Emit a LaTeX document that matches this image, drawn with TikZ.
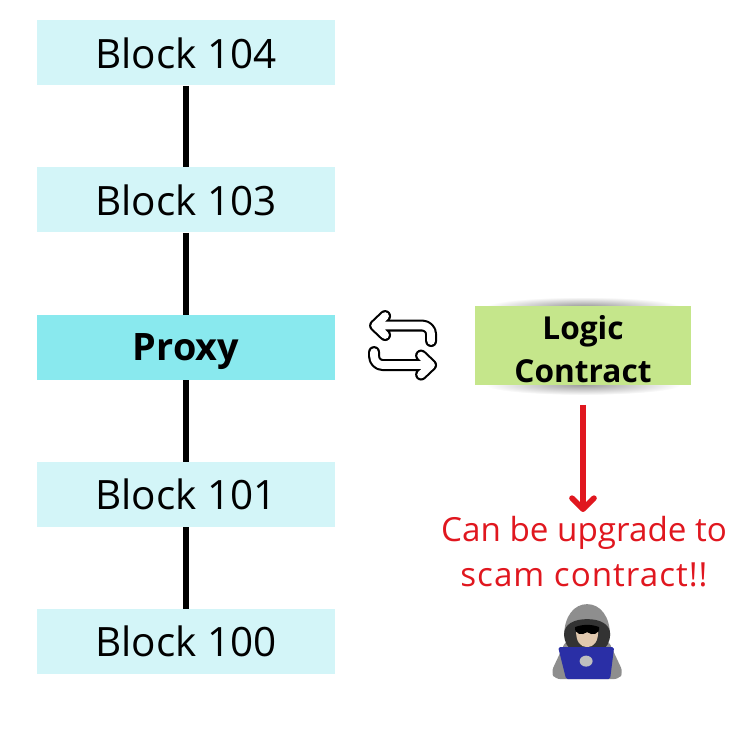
\documentclass[tikz,border=0pt]{standalone}
\usepackage{xcolor}
\usepackage{fontspec}
\setmainfont{Open Sans}
\usetikzlibrary{arrows.meta, positioning, calc}

\definecolor{blockcol}{HTML}{D3F5F8}
\definecolor{proxycol}{HTML}{89E9EE}
\definecolor{logiccol}{HTML}{C5E68B}
\definecolor{warncol}{HTML}{E0171F}
\definecolor{hoodcol}{HTML}{8E8E8E}
\definecolor{laptopcol}{HTML}{2A2FA6}
\definecolor{skincol}{HTML}{E0C8AE}

\begin{document}
\begin{tikzpicture}[
    block/.style={fill=blockcol, minimum width=5.96cm, minimum height=1.3cm,
                  inner sep=0pt, align=center, font=\fontsize{23}{27}\selectfont},
    link/.style={line width=3.4pt, black},
    swapline/.style={line width=1.2pt, double=white, double distance=4.4pt,
                     line cap=round, line join=round, rounded corners=5pt},
    warnarr/.style={line width=3.2pt, warncol, -{Straight Barb[round, length=2.2mm, width=4.4mm, line width=3.2pt]}}
]
\useasboundingbox (0,0) rectangle (15,15);

% chain of blocks
\node[block] (b104) at (3.72,13.94) {Block 104};
\node[block] (b103) at (3.72,11.00) {Block 103};
\node[block, fill=proxycol, text depth=0pt, font=\fontsize{21.5}{27}\selectfont] (proxy) at (3.72,8.05) {\textbf{Proxy}};
\node[block] (b101) at (3.72,5.11) {Block 101};
\node[block] (b100) at (3.72,2.17) {Block 100};

\draw[link] (b104) -- (b103);
\draw[link] (b103) -- (proxy);
\draw[link] (proxy) -- (b101);
\draw[link] (b101) -- (b100);

% soft shadow behind the logic box
\shade[inner color=black!42, outer color=white] (11.66,8.86) ellipse (1.95 and 0.2);
\shade[inner color=black!38, outer color=white] (11.66,7.30) ellipse (1.95 and 0.2);

\node[fill=logiccol, minimum width=4.32cm, minimum height=1.58cm, inner sep=0pt,
      align=center, font=\fontsize{18}{24.4}\selectfont\bfseries] (logic) at (11.66,8.09)
    {\rule{0pt}{17.5pt}Logic\\Contract};

\node[text=warncol, align=center, font=\fontsize{18.9}{26}\selectfont, inner sep=0pt,
      anchor=north] (warn) at (11.68,4.69) {Can be upgrade to\\{\addfontfeature{LetterSpace=3}scam contract!!}};

\coordinate (warnstart) at (11.66,6.9);
\coordinate (warnend) at (11.66,4.76);
\draw[warnarr] (warnstart) -- (warnend);

% swap icon, hacker: pixel coordinates
\begin{scope}[x=0.02cm, y=-0.02cm, yshift=15cm]
  \draw[swapline] (431,341) -- (431,325.5) -- (375,325.5) [sharp corners] (385,316) -- (375,325.5) -- (385,335);
  \draw[swapline] (374,352) -- (374,365) -- (431,365) [sharp corners] (421,355.5) -- (431,365) -- (421,374.5);

  % hood and shoulders
  \fill[hoodcol, rounded corners=3pt] (566,640) -- (551,672) -- (555,679) -- (619,679) -- (623,672) -- (608,640) -- cycle;
  \fill[hoodcol] (564,636) .. controls (564,616) and (574,604) .. (587,604)
      .. controls (600,604) and (610,616) .. (610,636) -- cycle;
  % face
  \fill[black!80] (564,634) .. controls (564,624) and (574,619) .. (587,619)
      .. controls (600,619) and (610,624) .. (610,634)
      .. controls (610,642) and (606,648) .. (602,650) -- (572,650)
      .. controls (568,648) and (564,642) .. (564,634) -- cycle;
  \fill[skincol] (576,632) -- (598,632) .. controls (598,641) and (594,647) .. (587,647)
      .. controls (580,647) and (576,641) .. (576,632) -- cycle;
  \fill[black] (575,627) .. controls (582,624) and (592,624) .. (599,627)
      .. controls (600,634) and (592,636) .. (587,632)
      .. controls (582,636) and (574,634) .. (575,627) -- cycle;
  % laptop
  \fill[laptopcol, rounded corners=1pt] (558,647) -- (614,647) -- (610,679) -- (566,679) -- cycle;
  \fill[black!25] (586,661) ellipse (6.5 and 5.5);
\end{scope}
\end{tikzpicture}
\end{document}
